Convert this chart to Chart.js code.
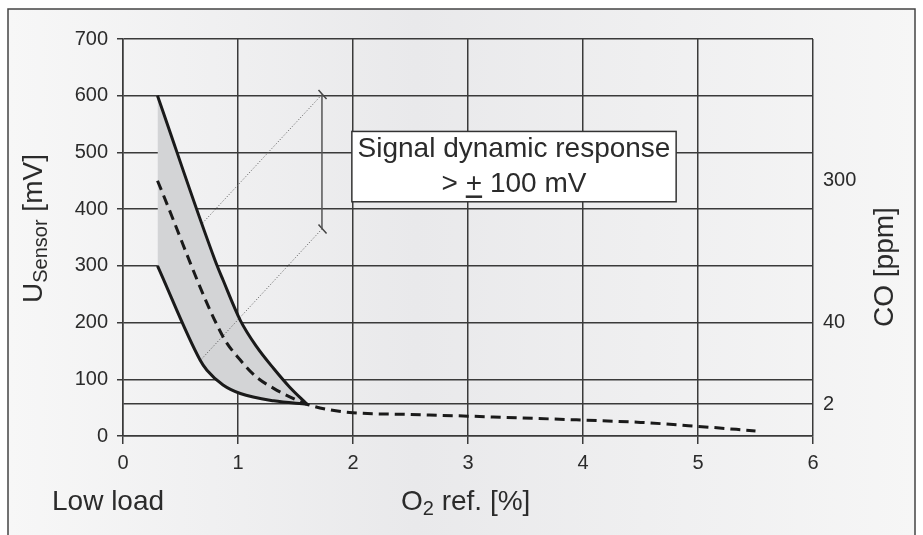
<!DOCTYPE html>
<html>
<head>
<meta charset="utf-8">
<script src="https://cdn.jsdelivr.net/npm/chart.js@4.4.1/dist/chart.umd.min.js"></script>
<style>
  body { margin: 0; background: #fff; }
  #wrap { width: 923px; height: 535px; position: relative; }
</style>
</head>
<body>
<div id="wrap"><canvas id="chart"></canvas></div>
<script>
// O2 ref. [%] vs U_Sensor [mV]
const lowerX  = [0.3, 0.67, 0.73, 0.87, 1.02, 1.31, 1.6];
const lowerY  = [300, 134, 116, 90, 75, 62, 56];
const upperX  = [0.3, 0.8, 0.87, 1.02, 1.16, 1.31, 1.45, 1.6];
const upperY  = [600, 310, 275, 204, 158, 119, 86, 56];
const midX    = [0.3, 0.87, 1.02, 1.16, 1.31, 1.45, 1.6, 1.8, 2.0, 2.5, 3.0, 4.0, 4.5, 5.0, 5.5];
const midY    = [450, 175, 134, 104, 84, 69, 56, 46, 41, 38, 35, 28, 24, 17, 9];

// dynamic response helper lines
const guideLowX  = [0.68, 1.73];
const guideLowY  = [135, 365];
const guideHighX = [0.69, 1.73];
const guideHighY = [375, 602];
const bracketX   = [1.73, 1.73];
const bracketY   = [365, 602];
const capTopX    = [1.70, 1.77];
const capTopY    = [610, 594];
const capBotX    = [1.70, 1.77];
const capBotY    = [373, 357];

const xTicks = [0, 1, 2, 3, 4, 5, 6];
const yTicks = [0, 56, 100, 200, 300, 400, 500, 600, 700];
const coValues = [56, 200, 450];
const coLabels = ["2", "40", "300"];

const FONT = "'Liberation Sans', Arial, Helvetica, sans-serif";
const INK = "#2b2b2b";
const GRID = "#3a3a3a";

const pts = (xs, ys) => xs.map((x, i) => ({ x, y: ys[i] }));

const line = (data, extra) => Object.assign({
  data, borderColor: "#1a1a1a", borderWidth: 3, pointRadius: 0,
  fill: false, cubicInterpolationMode: "monotone"
}, extra);

const frame = {
  id: "frame",
  beforeDraw(c) {
    const ctx = c.ctx;
    ctx.save();
    ctx.fillStyle = "#fff";
    ctx.fillRect(0, 0, c.width, c.height);
    const g = ctx.createLinearGradient(8, 0, 915, 0);
    g.addColorStop(0, "#f7f7f7");
    g.addColorStop(0.45, "#e9e9eb");
    g.addColorStop(1, "#f6f6f6");
    ctx.fillStyle = g;
    ctx.fillRect(8, 9, 907, 540);
    ctx.strokeStyle = "#444";
    ctx.lineWidth = 1.5;
    ctx.beginPath();
    ctx.moveTo(8, 540); ctx.lineTo(8, 9); ctx.lineTo(915, 9); ctx.lineTo(915, 540);
    ctx.stroke();
    ctx.restore();
  },
  afterDatasetsDraw(c) {
    const ctx = c.ctx, xs = c.scales.x, ys = c.scales.y;
    // annotation box
    const l = xs.getPixelForValue(1.99), r = xs.getPixelForValue(4.81);
    const t = ys.getPixelForValue(537), b = ys.getPixelForValue(413);
    ctx.save();
    ctx.fillStyle = "#fff";
    ctx.fillRect(l, t, r - l, b - t);
    ctx.strokeStyle = "#333";
    ctx.lineWidth = 1.5;
    ctx.strokeRect(l, t, r - l, b - t);
    const cx = (l + r) / 2;
    ctx.fillStyle = INK;
    ctx.font = "28px " + FONT;
    ctx.textAlign = "center";
    ctx.textBaseline = "alphabetic";
    ctx.fillText("Signal dynamic response", cx, t + 26);
    const s2 = "> + 100 mV";
    ctx.fillText(s2, cx, t + 61);
    const w = ctx.measureText(s2).width;
    const x0 = cx - w / 2 + ctx.measureText("> ").width;
    const pw = ctx.measureText("+").width;
    ctx.fillRect(x0, t + 64, pw, 2.5);
    ctx.restore();
  },
  afterDraw(c) {
    const ctx = c.ctx;
    ctx.save();
    ctx.fillStyle = INK;
    ctx.textBaseline = "alphabetic";
    ctx.textAlign = "left";
    const big = "28px " + FONT, small = "20px " + FONT;

    // bottom titles
    ctx.font = big;
    ctx.fillText("Low load", 52, 510);
    let x = 401;
    ctx.fillText("O", x, 510); x += ctx.measureText("O").width;
    ctx.font = small;
    ctx.fillText("2", x, 515); x += ctx.measureText("2").width;
    ctx.font = big;
    ctx.fillText(" ref. [%]", x, 510);

    // left title
    ctx.save();
    ctx.translate(42, 303);
    ctx.rotate(-Math.PI / 2);
    x = 0;
    ctx.font = big;
    ctx.fillText("U", x, 0); x += ctx.measureText("U").width;
    ctx.font = small;
    ctx.fillText("Sensor", x, 5); x += ctx.measureText("Sensor").width;
    ctx.font = big;
    ctx.fillText(" [mV]", x, 0);
    ctx.restore();

    // right title
    ctx.save();
    ctx.translate(893, 327);
    ctx.rotate(-Math.PI / 2);
    ctx.font = big;
    ctx.fillText("CO [ppm]", 0, 0);
    ctx.restore();
    ctx.restore();
  }
};

new Chart(document.getElementById("chart"), {
  type: "line",
  data: {
    datasets: [
      line(pts(lowerX, lowerY)),
      line(pts(upperX, upperY), { fill: { target: 0, above: "#d3d4d6", below: "#d3d4d6" } }),
      line(pts(midX, midY), { borderWidth: 3, borderDash: [10, 6] }),
      line(pts(guideLowX, guideLowY), { borderColor: "#555", borderWidth: 1, borderDash: [1, 2] }),
      line(pts(guideHighX, guideHighY), { borderColor: "#555", borderWidth: 1, borderDash: [1, 2] }),
      line(pts(bracketX, bracketY), { borderColor: "#555", borderWidth: 1.5 }),
      line(pts(capTopX, capTopY), { borderColor: "#444", borderWidth: 1.5 }),
      line(pts(capBotX, capBotY), { borderColor: "#444", borderWidth: 1.5 })
    ]
  },
  options: {
    responsive: true,
    maintainAspectRatio: false,
    animation: false,
    layout: { padding: { top: 39, left: 0, right: 0, bottom: 0 } },
    plugins: {
      legend: { display: false },
      tooltip: { enabled: false },
      filler: { drawTime: "beforeDatasetsDraw" }
    },
    scales: {
      x: {
        type: "linear", min: 0, max: 6,
        afterBuildTicks: s => { s.ticks = xTicks.map(v => ({ value: v })); },
        afterFit: s => { s.height = 99; },
        ticks: { color: INK, font: { family: FONT, size: 20 }, padding: 7 },
        grid: { color: GRID, lineWidth: 1.5, tickLength: 8 },
        border: { color: GRID, width: 1.5 }
      },
      y: {
        type: "linear", min: 0, max: 700,
        afterBuildTicks: s => { s.ticks = yTicks.map(v => ({ value: v })); },
        afterFit: s => { s.width = 123; },
        ticks: {
          color: INK, font: { family: FONT, size: 20 }, padding: 9, autoSkip: false,
          callback: v => (v === 56 ? "" : v)
        },
        grid: {
          color: GRID, lineWidth: 1.5, tickLength: 6,
          tickColor: ctx => (ctx.tick && ctx.tick.value === 56 ? "rgba(0,0,0,0)" : GRID)
        },
        border: { color: GRID, width: 1.5 }
      },
      y2: {
        type: "linear", position: "right", min: 0, max: 700,
        afterBuildTicks: s => { s.ticks = coValues.map(v => ({ value: v })); },
        afterFit: s => { s.width = 110; },
        ticks: {
          color: INK, font: { family: FONT, size: 20 }, padding: 10, autoSkip: false,
          callback: v => coLabels[coValues.indexOf(v)]
        },
        grid: { drawOnChartArea: false, drawTicks: false },
        border: { display: false }
      }
    }
  },
  plugins: [frame]
});
</script>
</body>
</html>
